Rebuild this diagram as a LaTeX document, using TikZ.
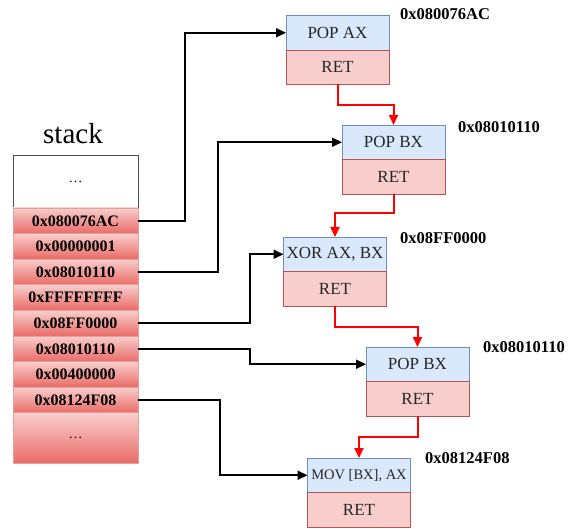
\documentclass[tikz,border=0pt]{standalone}
\usepackage{fontspec}
\setmainfont{Liberation Serif}
\usetikzlibrary{calc,arrows.meta}
\definecolor{bluefill}{HTML}{DAE8FC}
\definecolor{bluedraw}{HTML}{6C8EBF}
\definecolor{redfill}{HTML}{F8CECC}
\definecolor{reddraw}{HTML}{B85450}
\definecolor{rowtop}{HTML}{F8CECC}
\definecolor{rowbot}{HTML}{EA6B66}
\definecolor{rowdraw}{HTML}{E3A09D}
\definecolor{flow}{HTML}{FF0000}
\tikzset{
  cell/.style={draw=rowdraw, line width=0.8pt, top color=rowtop, bottom color=rowbot,
    minimum width=125pt, minimum height=25.6pt, inner sep=0pt, outer sep=0pt,
    anchor=north west, font=\fontsize{16}{18}\selectfont\bfseries},
  instr/.style={draw=bluedraw, fill=bluefill, line width=0.8pt,
    minimum width=103pt, minimum height=34.5pt, inner sep=0pt, outer sep=0pt,
    anchor=north west, font=\fontsize{17}{19}\selectfont, text=black!85},
  retbox/.style={draw=reddraw, fill=redfill, line width=0.8pt,
    minimum width=103pt, minimum height=34.5pt, inner sep=0pt, outer sep=0pt,
    anchor=north west, font=\fontsize{17}{19}\selectfont, text=black!85},
  addr/.style={anchor=west, inner sep=0pt, font=\fontsize{16.5}{18}\selectfont\bfseries},
  jump/.style={draw=black, line width=2pt, -{Triangle[length=10pt,width=9pt]}},
  chain/.style={draw=flow, line width=2pt, -{Triangle[length=10pt,width=9pt]}}
}
\begin{document}
\begin{tikzpicture}[x=1pt,y=-1pt]
\useasboundingbox (0,0) rectangle (575,529);

% stack
\node[font=\fontsize{29}{32}\selectfont] (stacklbl) at (73,134) {stack};
\node[draw=black!70, fill=white, line width=0.8pt, minimum width=125pt, minimum height=53pt,
  inner sep=0pt, outer sep=0pt, anchor=north west] (s0) at (13,155) {\fontsize{14}{16}\selectfont\dots};
\node[cell] (s1) at (13,208.0) {0x080076AC};
\node[cell] (s2) at (13,233.6) {0x00000001};
\node[cell] (s3) at (13,259.2) {0x08010110};
\node[cell] (s4) at (13,284.8) {0xFFFFFFFF};
\node[cell] (s5) at (13,310.4) {0x08FF0000};
\node[cell] (s6) at (13,336.0) {0x08010110};
\node[cell] (s7) at (13,361.6) {0x00400000};
\node[cell] (s8) at (13,387.2) {0x08124F08};
\node[cell, minimum height=51pt, font=\fontsize{14}{16}\selectfont] (s9) at (13,412.8) {\dots};

% gadgets
\node[instr] (g1a) at (286,15.5) {POP AX};
\node[retbox] (g1b) at (286,50) {RET};
\node[addr] (l1) at (400,14) {0x080076AC};

\node[instr] (g2a) at (342,125) {POP BX};
\node[retbox] (g2b) at (342,159.5) {RET};
\node[addr] (l2) at (458,127) {0x08010110};

\node[instr] (g3a) at (283.5,237) {XOR AX, BX};
\node[retbox] (g3b) at (283.5,271.5) {RET};
\node[addr] (l3) at (400,238) {0x08FF0000};

\node[instr] (g4a) at (366,347) {POP BX};
\node[retbox] (g4b) at (366,381.5) {RET};
\node[addr] (l4) at (483,347) {0x08010110};

\node[instr, font=\fontsize{14.5}{16}\selectfont] (g5a) at (307.5,458) {MOV [BX], AX};
\node[retbox] (g5b) at (307.5,492.5) {RET};
\node[addr] (l5) at (425,458) {0x08124F08};

% stack entries pointing at gadgets
\draw[jump] (s1.east) -- ($(s1.east)+(47,0)$) |- (g1a.west);
\draw[jump] (s3.east) -- ($(s3.east)+(80,0)$) |- (g2a.west);
\draw[jump] (s5.east) -- ($(s5.east)+(112,0)$) |- (g3a.west);
\draw[jump] (s6.east) -- ($(s6.east)+(112,0)$) |- (g4a.west);
\draw[jump] (s8.east) -- ($(s8.east)+(82,0)$) |- (g5a.west);

% control flow through RET
\draw[chain] (g1b.south) -- ++(0,20.5) -| (g2a.north);
\draw[chain] (g2b.south) -- ++(0,19) -| (g3a.north);
\draw[chain] (g3b.south) -- ++(0,21) -| (g4a.north);
\draw[chain] (g4b.south) -- ++(0,21) -| (g5a.north);
\end{tikzpicture}
\end{document}
